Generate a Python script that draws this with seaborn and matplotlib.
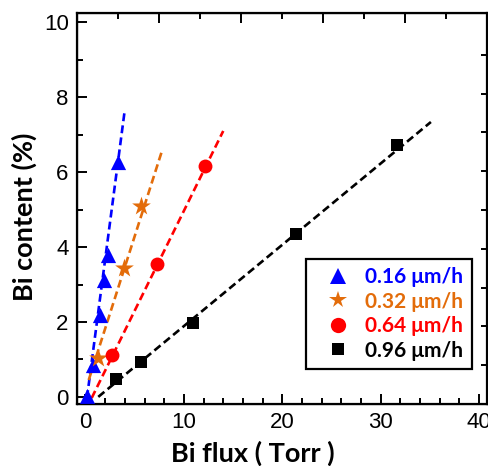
import numpy as np
import pandas as pd
import matplotlib
matplotlib.use("Agg")
import matplotlib.pyplot as plt
from matplotlib.lines import Line2D
from matplotlib.ticker import MultipleLocator
import seaborn as sns

# --- DATA ---
SERIES = ['0.16 μm/h', '0.32 μm/h', '0.64 μm/h', '0.96 μm/h']

flux_016 = [0.2, 0.79, 1.47, 1.91, 2.32, 3.33]
bi_016 = [0.03, 0.85, 2.19, 3.12, 3.79, 6.27]
flux_032 = [1.30, 3.91, 5.62]
bi_032 = [1.03, 3.43, 5.09]
flux_064 = [2.72, 7.30, 12.14]
bi_064 = [1.12, 3.56, 6.17]
flux_096 = [3.10, 5.61, 10.96, 21.39, 31.66]
bi_096 = [0.47, 0.94, 1.98, 4.35, 6.72]

# dashed guide lines: start / end points
fit_x_016 = [0.15, 3.99]
fit_y_016 = [-0.03, 7.65]
fit_x_032 = [0.33, 7.74]
fit_y_032 = [0.45, 6.54]
fit_x_064 = [0.63, 14.0]
fit_y_064 = [-0.03, 7.10]
fit_x_096 = [1.30, 35.1]
fit_y_096 = [0.0, 7.34]

# --- STYLE ---
COLORS = {
    SERIES[0]: '#0000FF',
    SERIES[1]: '#E36C0A',
    SERIES[2]: '#FF0000',
    SERIES[3]: '#000000',
}
MARKERS = {SERIES[0]: '^', SERIES[1]: '*', SERIES[2]: 'o', SERIES[3]: 's'}
SIZES = {SERIES[0]: 120, SERIES[1]: 200, SERIES[2]: 100, SERIES[3]: 65}
LEG_SIZES = {SERIES[0]: 12, SERIES[1]: 13, SERIES[2]: 11, SERIES[3]: 8}

points = pd.concat([
    pd.DataFrame({'flux': flux_016, 'bi': bi_016, 'rate': SERIES[0]}),
    pd.DataFrame({'flux': flux_032, 'bi': bi_032, 'rate': SERIES[1]}),
    pd.DataFrame({'flux': flux_064, 'bi': bi_064, 'rate': SERIES[2]}),
    pd.DataFrame({'flux': flux_096, 'bi': bi_096, 'rate': SERIES[3]}),
], ignore_index=True)

fits = pd.concat([
    pd.DataFrame({'flux': fit_x_016, 'bi': fit_y_016, 'rate': SERIES[0]}),
    pd.DataFrame({'flux': fit_x_032, 'bi': fit_y_032, 'rate': SERIES[1]}),
    pd.DataFrame({'flux': fit_x_064, 'bi': fit_y_064, 'rate': SERIES[2]}),
    pd.DataFrame({'flux': fit_x_096, 'bi': fit_y_096, 'rate': SERIES[3]}),
], ignore_index=True)

sns.set_style("ticks", {'axes.edgecolor': 'black', 'xtick.color': 'black',
                        'ytick.color': 'black', 'text.color': 'black',
                        'axes.labelcolor': 'black'})
LABEL_FONT = ['Lato', 'DejaVu Sans']
TICK_FONT = ['Liberation Sans', 'DejaVu Sans']

fig = plt.figure(figsize=(4.88, 4.66), dpi=100)
ax = fig.add_axes([77 / 488, 62 / 466, 410 / 488, 391 / 466])

# dashed guide lines
for rate in SERIES:
    sub = fits[fits['rate'] == rate]
    sns.lineplot(data=sub, x='flux', y='bi', color=COLORS[rate], ax=ax,
                 linewidth=1.9, linestyle=(0, (3, 1.6)), sort=False, legend=False)

# markers
for rate in SERIES:
    sub = points[points['rate'] == rate]
    sns.scatterplot(data=sub, x='flux', y='bi', color=COLORS[rate], marker=MARKERS[rate],
                    s=SIZES[rate], linewidth=0, ax=ax, legend=False, zorder=5)

ax.set_xlim(-0.86, 40.8)
ax.set_ylim(-0.19, 10.25)
ax.xaxis.set_major_locator(MultipleLocator(10))
ax.xaxis.set_minor_locator(MultipleLocator(2))
ax.yaxis.set_major_locator(MultipleLocator(2))
ax.yaxis.set_minor_locator(MultipleLocator(1))
ax.tick_params(which='both', direction='in', width=1.4, top=False, right=False)
ax.tick_params(which='major', length=7, labelsize=16, pad=6)
ax.tick_params(which='minor', length=4)
for lab in ax.get_xticklabels() + ax.get_yticklabels():
    lab.set_family(TICK_FONT)
for sp in ax.spines.values():
    sp.set_linewidth(1.6)

# top / right tick marks (unlabelled)
axt = ax.twiny()
axt.set_xlim(0, 10)
axt.xaxis.set_major_locator(MultipleLocator(2))
axt.xaxis.set_minor_locator(MultipleLocator(1))
axt.tick_params(which='both', direction='in', width=1.4, labeltop=False)
axt.tick_params(which='major', length=7)
axt.tick_params(which='minor', length=4)
axr = ax.twinx()
axr.set_ylim(0, 10.08)
axr.yaxis.set_minor_locator(plt.NullLocator())
axr.set_yticks(range(1, 10))
axr.tick_params(which='both', direction='in', width=1.4, length=4, labelright=False)

ax.set_xlabel('Bi flux ( Torr )', fontsize=19.5, fontweight='bold', family=LABEL_FONT)
ax.set_ylabel('Bi content (%)', fontsize=19.5, fontweight='bold', family=LABEL_FONT)
ax.xaxis.set_label_coords(0.43, -0.095)
ax.yaxis.set_label_coords(-0.097, 0.478)

handles = [Line2D([], [], linestyle='none', marker=MARKERS[r], color=COLORS[r],
                  markersize=LEG_SIZES[r], markeredgewidth=0) for r in SERIES]
leg = ax.legend(handles, SERIES, loc='lower right', bbox_to_anchor=(0.963, 0.0895),
                borderaxespad=0, fancybox=False, framealpha=1, edgecolor='black',
                prop={'family': LABEL_FONT, 'weight': 'bold', 'size': 15},
                labelspacing=0.22, handletextpad=0.15, handlelength=2.3,
                borderpad=0.4)
leg.get_frame().set_linewidth(1.6)
for txt, r in zip(leg.get_texts(), SERIES):
    txt.set_color(COLORS[r])

fig.savefig('out.png', dpi=100)
